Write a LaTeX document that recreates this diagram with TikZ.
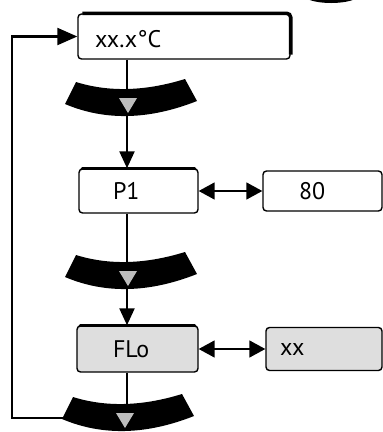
\documentclass[tikz,border=0pt]{standalone}
\usepackage{fontspec}
\setmainfont{PT Sans}
\usetikzlibrary{arrows.meta,calc}
\definecolor{boxgray}{HTML}{DEDEDE}
\definecolor{trigray}{HTML}{BDBDBD}
\tikzset{
  box/.style={draw=black, line width=1.4pt, rounded corners=3.5pt, inner ysep=0pt,
    align=left, font=\fontsize{24}{26}\selectfont, anchor=center},
  conn/.style={line width=2.2pt},
  vtip/.style={-{Triangle[length=17pt,width=15pt]}},
  looptip/.style={-{Triangle[length=20pt,width=17pt]}},
  dtip/.style={{Triangle[length=16pt,width=17pt]}-{Triangle[length=16pt,width=17pt]}, line width=1.6pt},
  topedge/.style={line width=3.2pt, line cap=round},
}
\newcommand\myband[2]{%
  \begin{scope}[shift={(#1,#2)}]
    \fill[black] (76,82) .. controls (109,92.3) and (145.3,91.3) .. (185,79)
      -- (197,101) .. controls (149,120) and (105,121) .. (65,104) -- cycle;
    \fill[trigray] (119,98) -- (137,98) -- (128,113) -- cycle;
  \end{scope}}
\begin{document}
\begin{tikzpicture}[x=1pt,y=-1pt]
  \useasboundingbox (0,0) rectangle (383,432);
  \clip (0,0) rectangle (383,432);

  % partial shape at top right
  \fill[black] (304,-3) .. controls (314,5) and (348,5) .. (359,-3) -- cycle;

  % boxes
  \node[box, minimum width=212pt, minimum height=45pt, inner xsep=17pt, text width=178pt, text height=24pt, text depth=2pt] (t) at (184,36.5) {xx.x°C};
  \node[box, minimum width=119pt, minimum height=44pt, inner xsep=34pt, text width=51pt] (p) at (138.5,191) {P1};
  \node[box, minimum width=119pt, minimum height=40pt, inner xsep=36pt, text width=47pt] (v1) at (322.5,191) {80};
  \node[box, fill=boxgray, minimum width=121pt, minimum height=46pt, inner xsep=36pt, text width=49pt] (f) at (137.5,349) {FLo};
  \node[box, fill=boxgray, minimum width=116pt, minimum height=43pt, inner xsep=14pt, text width=88pt] (v2) at (324,349) {xx};

  % heavier top / shadow edges
  \draw[line width=3.6pt, rounded corners=4pt] ([xshift=5pt]t.north west) -- (t.north east) -- ([yshift=5pt]t.south east);
  \draw[topedge] ([xshift=4pt]p.north west) -- ([xshift=-4pt]p.north east);
  \draw[topedge] ([xshift=4pt]f.north west) -- ([xshift=-4pt]f.north east);

  % helper coordinates
  \coordinate (axis) at (127,0);
  \coordinate (b3c) at (127,410);
  \coordinate (b3l) at (66,418);
  \coordinate (lp) at (12,418);

  % connectors
  \draw[conn, vtip] (t.south -| axis) -- (p.north -| axis);
  \draw[conn, vtip] (p.south -| axis) -- (f.north -| axis);
  \draw[conn] (f.south -| axis) -- (b3c);
  \draw[conn, looptip] (b3l) -- (lp) |- (t.west);
  \draw[dtip] (p.east) -- (v1.west);
  \draw[dtip] (f.east) -- (v2.west);

  % bands with markers
  \myband{0}{0}
  \myband{0}{173}
  \myband{-3}{315}
\end{tikzpicture}
\end{document}
